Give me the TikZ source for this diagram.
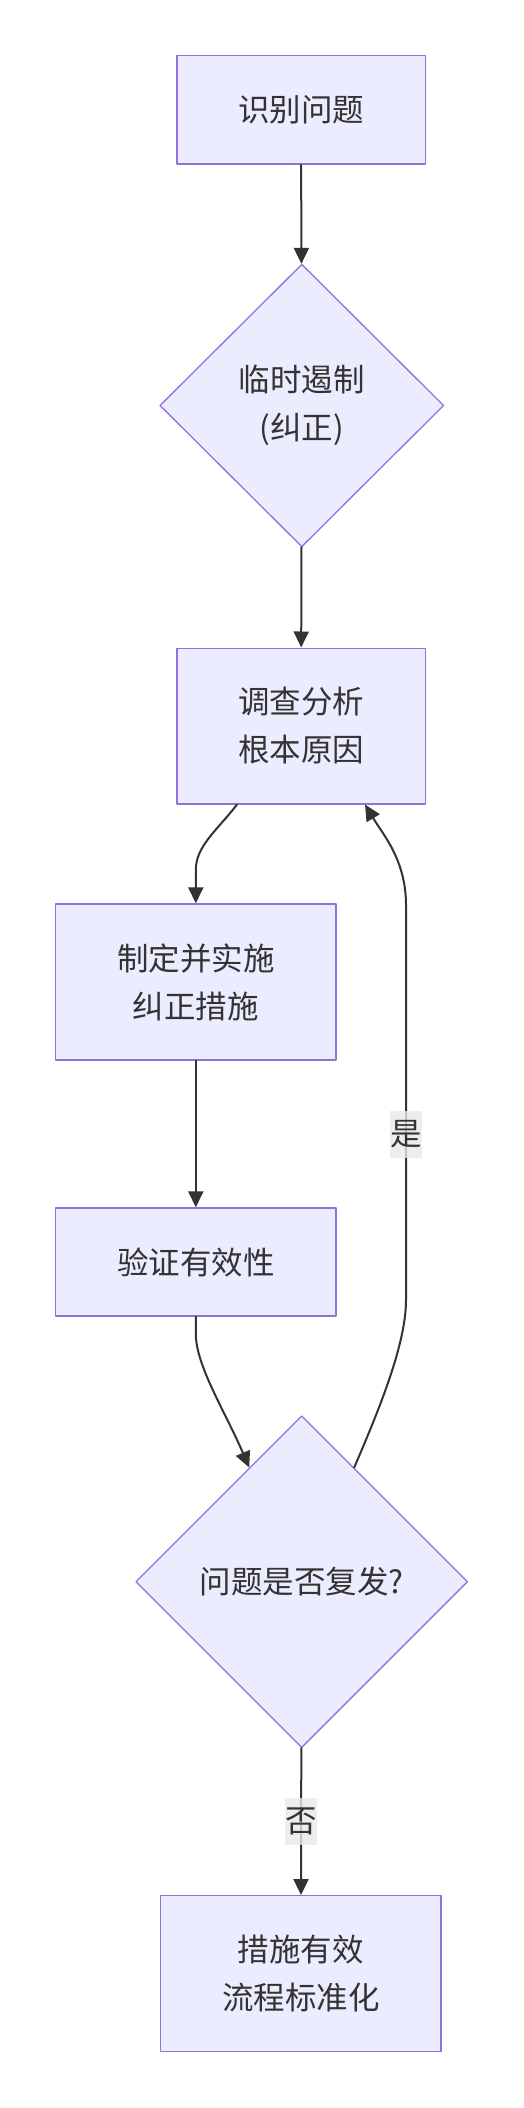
\documentclass[tikz,border=0pt]{standalone}
\usepackage{fontspec}
\setmainfont{Noto Sans CJK SC}
\usetikzlibrary{arrows.meta,shapes.geometric,calc}

\definecolor{boxfill}{HTML}{ECECFF}
\definecolor{boxline}{HTML}{9370DB}
\definecolor{edgeline}{HTML}{333333}
\definecolor{lblfill}{HTML}{E8E8E8}

\begin{document}
\begin{tikzpicture}[x=1pt, y=-1pt, line cap=round, line join=round,
    font=\fontsize{31.5}{48}\selectfont,
    stepbox/.style={rectangle, draw=boxline, fill=boxfill, line width=1.3pt,
      text=edgeline, align=center, inner sep=0pt},
    choice/.style={diamond, draw=boxline, fill=boxfill, line width=1.3pt,
      text=edgeline, align=center, inner sep=0pt},
    flow/.style={draw=edgeline, line width=2pt, -{Triangle[length=16pt,width=15pt]}},
    lbl/.style={fill=lblfill, fill opacity=0.8, text opacity=1, text=edgeline,
      inner sep=0pt, minimum width=32pt, minimum height=47pt}]

  %% ════ 节点 ════
  \node[stepbox, minimum width=248.3pt, minimum height=108.3pt] (ident) at (301.0,110.0) {识别问题};
  \node[choice, minimum width=284.0pt, minimum height=282.7pt] (contain) at (301.8,405.5) {临时遏制\\(纠正)};
  \node[stepbox, minimum width=248.3pt, minimum height=155.7pt] (analyze) at (301.0,726.0) {调查分析\\根本原因};
  \node[stepbox, minimum width=280.3pt, minimum height=156.0pt] (plan) at (195.8,982.0) {制定并实施\\纠正措施};
  \node[stepbox, minimum width=280.3pt, minimum height=108.0pt] (verify) at (195.8,1262.0) {验证有效性};
  \node[choice, minimum width=332.0pt, minimum height=332.0pt] (recur) at (301.7,1581.7) {问题是否复发?};
  \node[stepbox, minimum width=280.3pt, minimum height=156.0pt] (fix) at (300.8,1973.7) {措施有效\\流程标准化};

  %% ════ 连线 ════
  \draw[flow] (ident) -- (contain);
  \draw[flow] (contain) -- (analyze);
  \draw[flow] ($(analyze.south)+(-64,0)$) .. controls +(-20,26) and +(0,-24) .. (plan.north |- 0,870) -- (plan.north);
  \draw[flow] (plan) -- (verify);
  \draw[flow] (verify.south) -- +(0,17) .. controls +(0,32) and +(-24,-56) .. ($(recur.north)!0.315!(recur.west)$);
  % 回路：是 → 重新分析
  \draw[flow] ($(recur.north)!0.315!(recur.east)$) .. controls +(24,-56) and +(0,45) .. (406,1300)
    -- node[lbl, pos=0.42] (yes) {是} (406,905) .. controls +(0,-45) and +(18,30) .. ($(analyze.south)+(64,0)$);
  \draw[flow] (recur) -- node[lbl, pos=0.5] (no) {否} (fix);

  \pgfresetboundingbox
  \path[use as bounding box] (0,0) rectangle (524,2108);
\end{tikzpicture}
\end{document}
